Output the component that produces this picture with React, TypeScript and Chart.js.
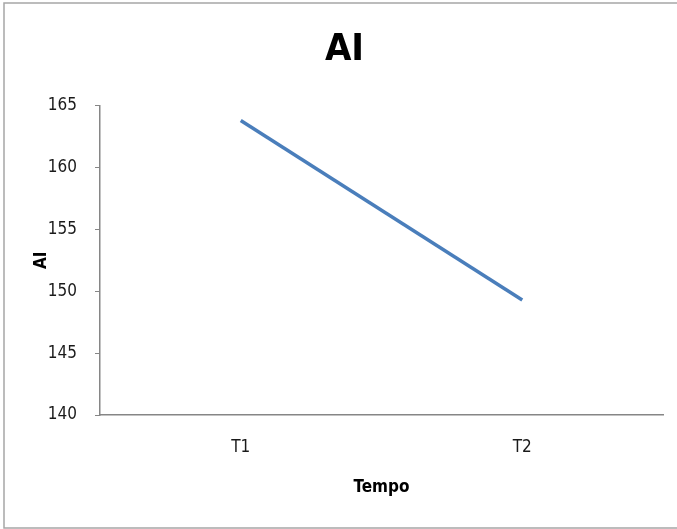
import React, { useEffect, useRef } from "react";
import { Chart, registerables } from "chart.js";

Chart.register(...registerables);

const categories: string[] = ["T1", "T2"];
const aiValues: number[] = [163.8, 149.3];
const yTicks: number[] = [140, 145, 150, 155, 160, 165];
const chartTitle = "AI";
const xTitle = "Tempo";
const yTitle = "AI";

const FONT = "'Liberation Sans Narrow', 'DejaVu Sans Condensed', 'Liberation Sans', sans-serif";

const framePlugin = {
  id: "frame",
  beforeDraw(chart: any) {
    const ctx = chart.ctx;
    ctx.save();
    ctx.fillStyle = "#ffffff";
    ctx.fillRect(0, 0, chart.width, chart.height);
    ctx.strokeStyle = "#a6a6a6";
    ctx.lineWidth = 1.5;
    ctx.strokeRect(4, 3, chart.width + 10, chart.height - 4);
    ctx.restore();
  },
};

export default function App() {
  const ref = useRef<HTMLCanvasElement | null>(null);

  useEffect(() => {
    if (!ref.current) return;
    const chart = new Chart(ref.current, {
      type: "line",
      data: {
        labels: categories,
        datasets: [
          {
            label: yTitle,
            data: aiValues,
            borderColor: "#4a7ebb",
            borderWidth: 3.5,
            pointRadius: 0,
            tension: 0,
            fill: false,
          },
        ],
      },
      plugins: [framePlugin],
      options: {
        responsive: true,
        maintainAspectRatio: false,
        animation: false,
        layout: { padding: { left: 26, right: 14, top: 0, bottom: 0 } },
        plugins: {
          legend: { display: false },
          tooltip: { enabled: false },
          title: {
            display: true,
            text: chartTitle,
            color: "#000000",
            font: { family: FONT, size: 38, weight: "bold" },
            padding: { top: 27, bottom: 33 },
          },
        },
        scales: {
          x: {
            offset: true,
            grid: { display: false },
            border: { display: true, color: "#868686", width: 1.5 },
            ticks: {
              color: "#1a1a1a",
              font: { family: FONT, size: 17 },
              padding: 14,
            },
            title: {
              display: true,
              text: xTitle,
              color: "#000000",
              font: { family: FONT, size: 17, weight: "bold" },
              padding: { top: 4, bottom: 31 },
            },
            afterFit(scale: any) {
              scale.height = 114;
            },
          },
          y: {
            min: 140,
            max: 165,
            afterBuildTicks(scale: any) {
              scale.ticks = yTicks.map((v) => ({ value: v }));
            },
            grid: {
              display: true,
              drawOnChartArea: false,
              drawTicks: true,
              tickLength: 5,
              color: "#868686",
            },
            border: { display: true, color: "#868686", width: 1.5 },
            ticks: {
              color: "#1a1a1a",
              font: { family: FONT, size: 17 },
              padding: 18,
            },
            title: {
              display: true,
              text: yTitle,
              color: "#000000",
              font: { family: FONT, size: 17, weight: "bold" },
              padding: { top: 5, bottom: 4 },
            },
            afterFit(scale: any) {
              scale.width = 74;
            },
          },
        },
      },
    });
    return () => chart.destroy();
  }, []);

  return (
    <div style={{ position: "fixed", left: 0, top: 0, width: 677, height: 529, background: "#fff" }}>
      <canvas ref={ref} />
    </div>
  );
}
